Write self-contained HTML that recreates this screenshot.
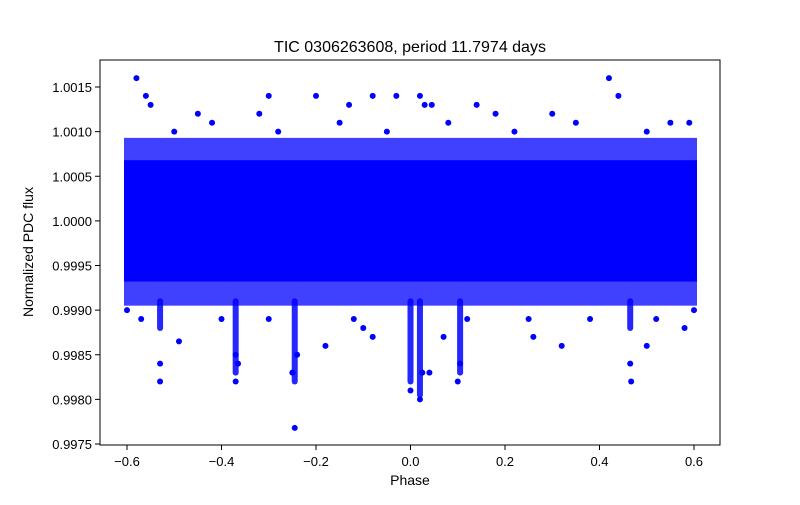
<!DOCTYPE html>
<html><head><meta charset="utf-8"><style>
body{margin:0;background:#fff;}
svg text{font-family:"Liberation Sans","DejaVu Sans",sans-serif;fill:#000;}
</style></head><body>
<svg id="chart" width="800" height="500">
<rect width="800" height="500" fill="#fff"/>
<g id="marks"></g>
<rect x="100" y="60" width="620" height="385" fill="none" stroke="#000" stroke-width="1"/>
<g id="axes"></g>
<text x="410" y="52" font-size="16" text-anchor="middle">TIC 0306263608, period 11.7974 days</text>
<text x="410" y="485" font-size="14" text-anchor="middle">Phase</text>
<text transform="translate(33,252) rotate(-90)" font-size="14" text-anchor="middle">Normalized PDC flux</text>
</svg>
<script>
const xTicks=[-0.6,-0.4,-0.2,0.0,0.2,0.4,0.6];
const xTickLabels=["−0.6","−0.4","−0.2","0.0","0.2","0.4","0.6"];
const yTicks=[0.9975,0.9980,0.9985,0.9990,0.9995,1.0000,1.0005,1.0010,1.0015];
const yTickLabels=["0.9975","0.9980","0.9985","0.9990","0.9995","1.0000","1.0005","1.0010","1.0015"];
const phaseRange=[-0.6,0.6];
const coreBand=[0.99932,1.00068];
const outerBand=[0.99905,1.00093];
const dipPhases=[-0.37,-0.245,0.0,0.02,0.105,-0.53,0.465];
const dipMins=[0.9983,0.9982,0.9982,0.99805,0.9983,0.9988,0.9988];
const outPhases=[-0.58,-0.56,-0.55,-0.53,-0.53,-0.49,-0.37,-0.37,-0.365,-0.30,-0.245,-0.25,-0.24,-0.20,-0.18,-0.13,-0.08,-0.08,-0.03,0.0,0.02,0.025,0.04,0.02,0.03,0.045,0.10,0.105,0.14,0.18,0.26,0.32,0.42,0.44,0.465,0.467,0.5,0.58,-0.45,-0.32,0.3,0.55,-0.1,0.07,-0.6,0.6,-0.5,-0.42,-0.28,-0.15,-0.05,0.08,0.22,0.35,0.5,0.59,-0.57,-0.4,-0.3,-0.12,0.12,0.25,0.38,0.52];
const outFlux=[1.0016,1.0014,1.0013,0.9984,0.9982,0.99865,0.9985,0.9982,0.9984,1.0014,0.99768,0.9983,0.9985,1.0014,0.9986,1.0013,1.0014,0.9987,1.0014,0.9981,0.9980,0.9983,0.9983,1.0014,1.0013,1.0013,0.9982,0.9984,1.0013,1.0012,0.9987,0.9986,1.0016,1.0014,0.9984,0.9982,0.9986,0.9988,1.0012,1.0012,1.0012,1.0011,0.9988,0.9987,0.9990,0.9990,1.0010,1.0011,1.0010,1.0011,1.0010,1.0011,1.0010,1.0011,1.0010,1.0011,0.9989,0.9989,0.9989,0.9989,0.9989,0.9989,0.9989,0.9989];
const NS="http://www.w3.org/2000/svg";
const X=p=>410.5+472.5*p;
const Y=v=>444-(v-0.9975)*89250;
const marks=document.getElementById('marks');
const axes=document.getElementById('axes');
function mk(t,a,parent){const e=document.createElementNS(NS,t);for(const k in a)e.setAttribute(k,a[k]);parent.appendChild(e);return e;}
let r=mk('rect',{x:X(phaseRange[0])-3,y:Y(outerBand[1]),width:X(phaseRange[1])-X(phaseRange[0])+6,height:Y(outerBand[0])-Y(outerBand[1]),fill:'#0000ff','fill-opacity':0.75},marks);


r=mk('rect',{x:X(phaseRange[0])-3,y:Y(coreBand[1]),width:X(phaseRange[1])-X(phaseRange[0])+6,height:Y(coreBand[0])-Y(coreBand[1]),fill:'#0000ff'},marks);


dipPhases.forEach((p,i)=>{
 const l=mk('line',{x1:X(p),x2:X(p),y1:Y(0.9991),y2:Y(dipMins[i]),stroke:'#0000ff','stroke-width':6,'stroke-linecap':'round','stroke-opacity':0.85},marks);
 
 
});
outPhases.forEach((p,i)=>{
 const c=mk('circle',{cx:X(p),cy:Y(outFlux[i]),r:3,fill:'#0000ff'},marks);
 
 
});
xTicks.forEach((t,i)=>{
 const l=mk('line',{x1:X(t),x2:X(t),y1:445,y2:450,stroke:'#000'},axes);
 
 
 const tx=mk('text',{x:X(t),y:466,'font-size':13,'text-anchor':'middle'},axes);
 tx.textContent=xTickLabels[i];
 
 
});
yTicks.forEach((t,i)=>{
 const l=mk('line',{x1:95,x2:100,y1:Y(t),y2:Y(t),stroke:'#000'},axes);
 
 
 const tx=mk('text',{x:92,y:Y(t)+5,'font-size':13,'text-anchor':'end'},axes);
 tx.textContent=yTickLabels[i];
 
 
});
</script>
</body></html>
